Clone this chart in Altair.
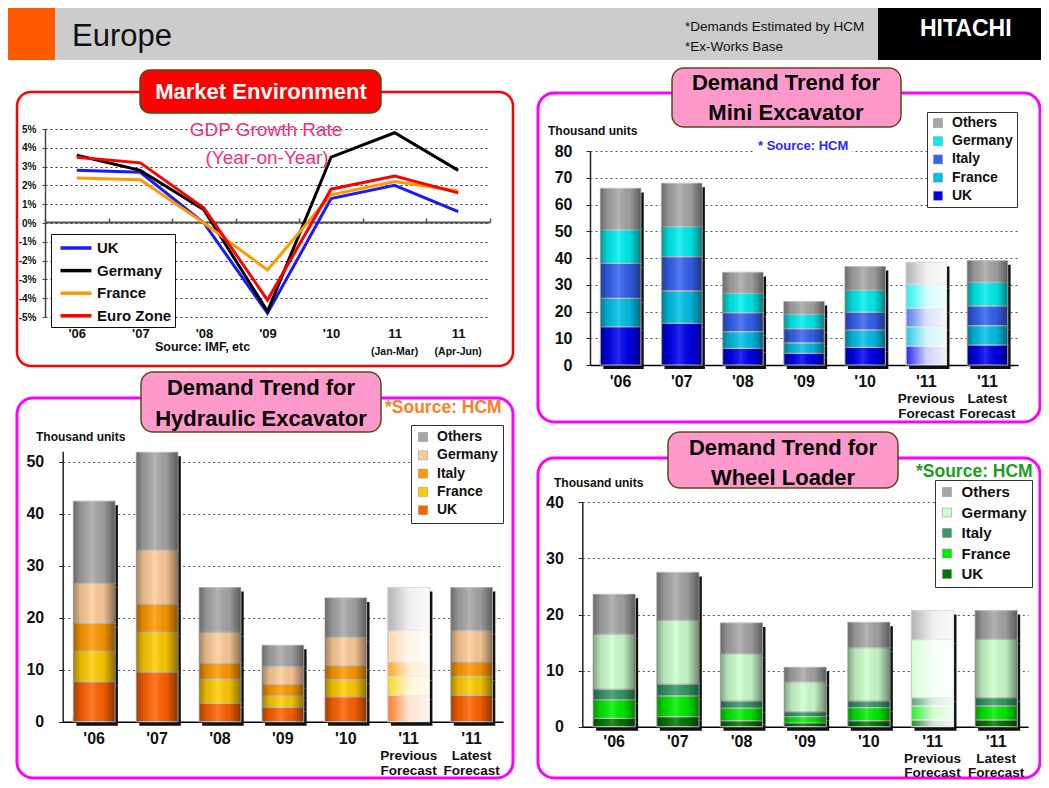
import json
import altair as alt
import pandas as pd

# ---------------- data ----------------
gdp_periods = ["'06", "'07", "'08", "'09", "'10", "11 (Jan-Mar)", "11 (Apr-Jun)"]
gdp_period_notes = ["", "", "", "", "", "(Jan-Mar)", "(Apr-Jun)"]
gdp_series = ["UK", "Germany", "France", "Euro Zone"]
gdp_colors = ["#1a1aff", "#000000", "#ff9900", "#ff0000"]
gdp_uk = [2.8, 2.7, 0.0, -4.8, 1.3, 2.0, 0.6]
gdp_germany = [3.6, 2.8, 0.7, -4.7, 3.5, 4.8, 2.8]
gdp_france = [2.4, 2.3, 0.0, -2.5, 1.5, 2.2, 1.7]
gdp_eurozone = [3.5, 3.2, 0.8, -4.1, 1.8, 2.5, 1.6]
gdp_ticks = [-5, -4, -3, -2, -1, 0, 1, 2, 3, 4, 5]

years = ["'06", "'07", "'08", "'09", "'10", "'11 Previous Forecast", "'11 Latest Forecast"]
year_notes = ["", "", "", "", "", "Previous\nForecast", "Latest\nForecast"]
stack_countries = ["UK", "France", "Italy", "Germany", "Others"]
legend_countries = ["Others", "Germany", "Italy", "France", "UK"]

mini_uk = [14.3, 15.6, 6.2, 4.4, 6.6, 7.1, 7.5]
mini_france = [10.6, 12.1, 6.3, 3.9, 6.5, 7.2, 7.2]
mini_italy = [13.1, 12.8, 7.1, 5.3, 6.7, 6.9, 7.4]
mini_germany = [12.5, 11.2, 7.2, 5.3, 8.2, 9.0, 8.8]
mini_others = [15.5, 16.2, 7.8, 4.8, 8.8, 8.1, 8.1]
mini_ticks = [0, 10, 20, 30, 40, 50, 60, 70, 80]

hyd_uk = [7.7, 9.6, 3.5, 2.8, 4.8, 5.1, 5.1]
hyd_france = [5.9, 7.6, 4.7, 2.1, 3.3, 3.6, 3.6]
hyd_italy = [5.3, 5.4, 3.0, 2.3, 2.7, 2.8, 2.8]
hyd_germany = [7.7, 10.4, 6.0, 3.4, 5.4, 6.0, 6.0]
hyd_others = [15.8, 18.8, 8.6, 4.1, 7.6, 8.3, 8.3]
hyd_ticks = [0, 10, 20, 30, 40, 50]

wl_uk = [1.5, 1.8, 1.1, 0.7, 1.1, 1.2, 1.2]
wl_france = [3.3, 3.7, 2.2, 1.1, 2.3, 2.5, 2.5]
wl_italy = [1.9, 2.1, 1.3, 0.9, 1.2, 1.5, 1.5]
wl_germany = [9.8, 11.4, 8.4, 5.3, 9.5, 10.3, 10.4]
wl_others = [7.1, 8.5, 5.5, 2.6, 4.5, 5.2, 5.1]
wl_ticks = [0, 10, 20, 30, 40]

mini_colors = {"UK": "#0000ee", "France": "#00c0e6", "Italy": "#3462f0", "Germany": "#00eeee", "Others": "#a6a6a6"}
hyd_colors = {"UK": "#ff6200", "France": "#ffcc00", "Italy": "#ff9900", "Germany": "#ffcc99", "Others": "#a6a6a6"}
wl_colors = {"UK": "#007800", "France": "#00ee00", "Italy": "#339966", "Germany": "#ccffcc", "Others": "#a6a6a6"}

# ---------------- layout helpers ----------------
FONT = "Liberation Sans"
NARROW = "'Liberation Sans Narrow', 'Liberation Sans', sans-serif"
W, H = 1033, 772


def px(v):
    return v - 8


def py(v):
    return v - 8


ONE = pd.DataFrame({"k": [0]})


def box(x1, y1, x2, y2, fill="white", fill_opacity=1.0, stroke=None, sw=0, r=0):
    kw = dict(fill=fill, fillOpacity=fill_opacity, cornerRadius=r, strokeWidth=sw)
    if stroke:
        kw["stroke"] = stroke
    return alt.Chart(ONE).mark_rect(**kw).encode(
        x=alt.value(px(x1)), x2=alt.value(px(x2)), y=alt.value(py(y1)), y2=alt.value(py(y2)))


def label(s, x, y, size, color="#000", weight="normal", align="center", font=FONT):
    return alt.Chart(ONE).mark_text(text=s, font=font, fontSize=size, fontWeight=weight,
                                    color=color, align=align, baseline="middle").encode(
        x=alt.value(px(x)), y=alt.value(py(y)))


DARK_GRAD = alt.LinearGradient(gradient="linear", x1=0, x2=1, y1=0, y2=0, stops=[
    alt.GradientStop(color="rgba(0,0,0,0.36)", offset=0),
    alt.GradientStop(color="rgba(0,0,0,0.10)", offset=0.18),
    alt.GradientStop(color="rgba(255,255,255,0.16)", offset=0.45),
    alt.GradientStop(color="rgba(0,0,0,0.06)", offset=0.72),
    alt.GradientStop(color="rgba(0,0,0,0.45)", offset=1)])
WASH_GRAD = alt.LinearGradient(gradient="linear", x1=0, x2=1, y1=0, y2=0, stops=[
    alt.GradientStop(color="rgba(255,255,255,0.15)", offset=0),
    alt.GradientStop(color="rgba(255,255,255,0.82)", offset=0.5),
    alt.GradientStop(color="rgba(255,255,255,0.94)", offset=1)])


def bar_panel(vals, colors, xr, ydom, yr, yticks, ylab_pad, lab_top, note_top, note_lh,
              leg_x, leg_y, leg_font, leg_rowpad, leg_pad):
    rows = []
    for i, yv in enumerate(years):
        for r, c in enumerate(stack_countries):
            rows.append({"year": yv, "country": c, "rank": r, "units": vals[c][i]})
    df = pd.DataFrame(rows)
    notes = pd.DataFrame({"year": years, "note": year_notes})
    xs = alt.Scale(type="band", domain=years, range=[px(xr[0]), px(xr[1])],
                   paddingInner=0.34, paddingOuter=0.17)
    ys = alt.Scale(domain=ydom, range=[py(yr[0]), py(yr[1])], nice=False, zero=True)
    y_axis = alt.Axis(
        orient="left", offset=-px(xr[0]), values=yticks, grid=True, gridDash=[2, 3],
        gridColor="#555", gridWidth=1, domain=True, domainColor="#222", domainWidth=1.5,
        ticks=True, tickSize=4, tickColor="#222", labelPadding=ylab_pad, labelFont=FONT,
        labelFontSize=16, labelFontWeight="bold", labelColor="#111", title=None)
    y_enc = alt.Y("units:Q", stack="zero", scale=ys, title=None, axis=y_axis)
    order = alt.Order("rank:Q", sort="ascending")
    base = alt.Chart(df)
    prev = json.dumps(years[5])

    shadow = base.mark_bar(color="#111111", xOffset=3, x2Offset=3, yOffset=4, y2Offset=0).encode(
        x=alt.X("year:N", scale=xs, title=None, axis=alt.Axis(
            orient="top", offset=-py(yr[0]), labels=False, domain=True, domainColor="#000",
            domainWidth=1.5, ticks=True, tickSize=6, tickColor="#000", tickWidth=1.2,
            tickBand="extent", grid=False, title=None)),
        y=y_enc, detail="country:N", order=order)

    bars = base.mark_bar(stroke="#c4c4c4", strokeWidth=1.2).encode(
        x=alt.X("year:N", scale=xs, title=None, axis=alt.Axis(
            orient="bottom", offset=py(lab_top) - H, labelExpr="split(datum.value, ' ')[0]",
            labelAngle=0, labelBaseline="top", labelPadding=0, ticks=False, tickSize=0,
            domain=False, grid=False, labelFont=FONT, labelFontSize=16, labelFontWeight="bold",
            labelColor="#111", labelOverlap=False, title=None)),
        y=y_enc,
        color=alt.Color("country:N", sort=legend_countries,
                        scale=alt.Scale(domain=legend_countries,
                                        range=[colors[c] for c in legend_countries]),
                        legend=alt.Legend(
                            title=None, orient="none", legendX=px(leg_x), legendY=py(leg_y),
                            direction="vertical", symbolType="square", symbolSize=81,
                            symbolStrokeColor="#888", symbolStrokeWidth=0.5,
                            labelFont=FONT, labelFontSize=leg_font, labelFontWeight="bold",
                            labelColor="#111", labelOffset=7, rowPadding=leg_rowpad,
                            padding=leg_pad, strokeColor="#333", fillColor="white")),
        order=order)

    shade = base.mark_bar(color=DARK_GRAD, strokeWidth=0).encode(
        x=alt.X("year:N", scale=xs, axis=None), y=y_enc, detail="country:N", order=order
    ).transform_filter(f"datum.year != {prev}")

    wash = base.mark_bar(color=WASH_GRAD, strokeWidth=0).encode(
        x=alt.X("year:N", scale=xs, axis=None), y=y_enc, detail="country:N", order=order
    ).transform_filter(f"datum.year == {prev}")

    note_layer = alt.Chart(notes).mark_text(
        font=FONT, fontSize=13.5, fontWeight="bold", color="#111", align="center",
        baseline="top", lineBreak="\n", lineHeight=note_lh).encode(
        x=alt.X("year:N", scale=xs, axis=None, bandPosition=0.5),
        y=alt.value(py(note_top)), text="note:N")

    return alt.layer(shadow, bars, shade, wash, note_layer).resolve_axis(x="independent")


# ---------------- market environment (GDP lines) ----------------
gdp_values = {"UK": gdp_uk, "Germany": gdp_germany, "France": gdp_france, "Euro Zone": gdp_eurozone}
grows = []
for s in gdp_series:
    for i, p in enumerate(gdp_periods):
        grows.append({"period": p, "idx": i, "series": s, "growth": gdp_values[s][i]})
gdf = pd.DataFrame(grows)
gnotes = pd.DataFrame({"period": gdp_periods, "note": gdp_period_notes})

g_xs_pt = alt.Scale(type="point", domain=gdp_periods, range=[px(45), px(490)], padding=0.5)
g_xs_band = alt.Scale(type="band", domain=gdp_periods, range=[px(45), px(490)],
                      paddingInner=0, paddingOuter=0)
g_ys = alt.Scale(domain=[-5, 5], range=[py(317), py(129)], nice=False, zero=False)

gdp_lines = alt.Chart(gdf).mark_line(strokeWidth=3).encode(
    x=alt.X("period:N", scale=g_xs_pt, title=None, axis=alt.Axis(
        orient="bottom", offset=py(327) - H, labelExpr="split(datum.value, ' ')[0]",
        labelAngle=0, labelBaseline="top", labelPadding=0, ticks=False, tickSize=0,
        domain=False, grid=False, labelFont=FONT, labelFontSize=13, labelFontWeight="bold",
        labelColor="#111", labelOverlap=False, title=None)),
    y=alt.Y("growth:Q", scale=g_ys, title=None, axis=alt.Axis(
        orient="left", offset=-px(45), values=gdp_ticks, labelExpr="datum.value + '%'",
        grid=True, gridDash=[2, 3], gridColor="#333", gridWidth=1, domain=True,
        domainColor="#444", domainWidth=1.5, ticks=True, tickSize=3, tickColor="#444",
        labelPadding=6, labelFont=FONT, labelFontSize=10, labelFontWeight="bold",
        labelColor="#111", title=None)),
    color=alt.Color("series:N", sort=gdp_series,
                    scale=alt.Scale(domain=gdp_series, range=gdp_colors),
                    legend=alt.Legend(
                        title=None, orient="none", legendX=px(51), legendY=py(234),
                        direction="vertical", symbolType="M-0.5,0H2.94", symbolSize=324,
                        symbolStrokeWidth=3.5, labelFont=FONT, labelFontSize=15,
                        labelFontWeight="bold", labelColor="#111", labelOffset=21,
                        rowPadding=3.6, padding=3, strokeColor="#111", fillColor="white")),
    order=alt.Order("idx:Q"))

gdp_note_layer = alt.Chart(gnotes).mark_text(
    font=FONT, fontSize=10.5, fontWeight="bold", color="#111", align="center",
    baseline="middle").encode(
    x=alt.X("period:N", scale=g_xs_band, bandPosition=0.5, title=None, axis=alt.Axis(
        orient="top", offset=-py(222), labels=False, domain=True, domainColor="#555",
        domainWidth=2, ticks=True, tickSize=4, tickColor="#555", tickWidth=1.5,
        tickBand="extent", grid=False, title=None)),
    y=alt.value(py(352)), text="note:N")

market = alt.layer(gdp_lines, gdp_note_layer).resolve_scale(x="independent")

mini = bar_panel({"UK": mini_uk, "France": mini_france, "Italy": mini_italy,
                  "Germany": mini_germany, "Others": mini_others}, mini_colors,
                 xr=(590, 1018), ydom=[0, 80], yr=(365, 151), yticks=mini_ticks, ylab_pad=14,
                 lab_top=373, note_top=391.5, note_lh=15.5,
                 leg_x=927, leg_y=112, leg_font=14, leg_rowpad=4.2, leg_pad=4)

hyd = bar_panel({"UK": hyd_uk, "France": hyd_france, "Italy": hyd_italy,
                 "Germany": hyd_germany, "Others": hyd_others}, hyd_colors,
                xr=(62.7, 503), ydom=[0, 52], yr=(721.7, 451.3), yticks=hyd_ticks, ylab_pad=15,
                lab_top=730, note_top=748.5, note_lh=15.5,
                leg_x=411, leg_y=425, leg_font=14, leg_rowpad=4.3, leg_pad=5)

wheel = bar_panel({"UK": wl_uk, "France": wl_france, "Italy": wl_italy,
                   "Germany": wl_germany, "Others": wl_others}, wl_colors,
                  xr=(582.3, 1028), ydom=[0, 40], yr=(726.7, 502.3), yticks=wl_ticks, ylab_pad=15,
                  lab_top=733, note_top=751.5, note_lh=14.5,
                  leg_x=935, leg_y=480, leg_font=15, leg_rowpad=4.5, leg_pad=4.5)

# ---------------- slide decoration ----------------
PILL_EDGE = "#5a4a1a"
decor = [
    box(8, 8, 878, 60, fill="#cccccc"),
    box(8, 8, 55, 60, fill="#ff5a00"),
    box(878, 8, 1041, 60, fill="#000000"),
    box(17, 92, 513, 366, fill_opacity=0, stroke="#ff0000", sw=2.5, r=14),
    box(538, 93, 1040, 422, fill_opacity=0, stroke="#ff00ff", sw=3, r=16),
    box(17, 398, 513, 778, fill_opacity=0, stroke="#ff00ff", sw=3, r=16),
    box(538, 458, 1040, 778, fill_opacity=0, stroke="#ff00ff", sw=3, r=16),
    box(140, 70, 381, 113, fill="#ff0000", stroke=PILL_EDGE, sw=1.5, r=10),
    box(672, 68, 901, 127, fill="#ff99cc", stroke=PILL_EDGE, sw=1.5, r=12),
    box(141, 372, 381, 432, fill="#ff99cc", stroke=PILL_EDGE, sw=1.5, r=12),
    box(668, 432, 898, 488, fill="#ff99cc", stroke=PILL_EDGE, sw=1.5, r=12),
]

texts = [
    box(755, 139, 852, 154, fill="white"),
    label("Europe", 72, 37, 31, color="#111", align="left"),
    label("*Demands Estimated by HCM", 685, 27, 13.5, color="#111", align="left", font=NARROW),
    label("*Ex-Works Base", 685, 47, 13.5, color="#111", align="left", font=NARROW),
    label("HITACHI", 920, 29, 23, color="white", weight="bold", align="left"),
    label("Market Environment", 261, 92, 22, color="white", weight="bold"),
    label("Demand Trend for", 786, 83, 22, weight="bold"),
    label("Mini Excavator", 786, 113, 22, weight="bold"),
    label("Demand Trend for", 261, 388, 22, weight="bold"),
    label("Hydraulic Excavator", 261, 419, 22, weight="bold"),
    label("Demand Trend for", 783, 448, 22, weight="bold"),
    label("Wheel Loader", 783, 478, 22, weight="bold"),
    label("GDP Growth Rate", 266, 130, 19, color="#f0307a"),
    label("(Year-on-Year)", 267, 158, 19, color="#f0307a"),
    label("Source: IMF, etc", 155, 347, 12.5, color="#111", weight="bold", align="left"),
    label("Thousand units", 548, 131, 12, color="#111", weight="bold", align="left"),
    label("* Source: HCM", 758, 146, 13, color="#2a2aff", weight="bold", align="left"),
    label("Thousand units", 36, 437, 12, color="#111", weight="bold", align="left"),
    label("*Source: HCM", 385, 408, 17.5, color="#ff7f1f", weight="bold", align="left"),
    label("Thousand units", 554, 483, 12, color="#111", weight="bold", align="left"),
    label("*Source: HCM", 916, 472, 17.5, color="#1aa01a", weight="bold", align="left"),
]

chart = alt.layer(*decor, market, mini, hyd, wheel, *texts).resolve_scale(
    x="independent", y="independent", color="independent"
).properties(
    width=W, height=H, autosize=alt.AutoSizeParams(type="none"), padding=0,
    background="white"
).configure_view(stroke=None)

chart.save("out.html", embed_options={"renderer": "svg", "actions": False})
